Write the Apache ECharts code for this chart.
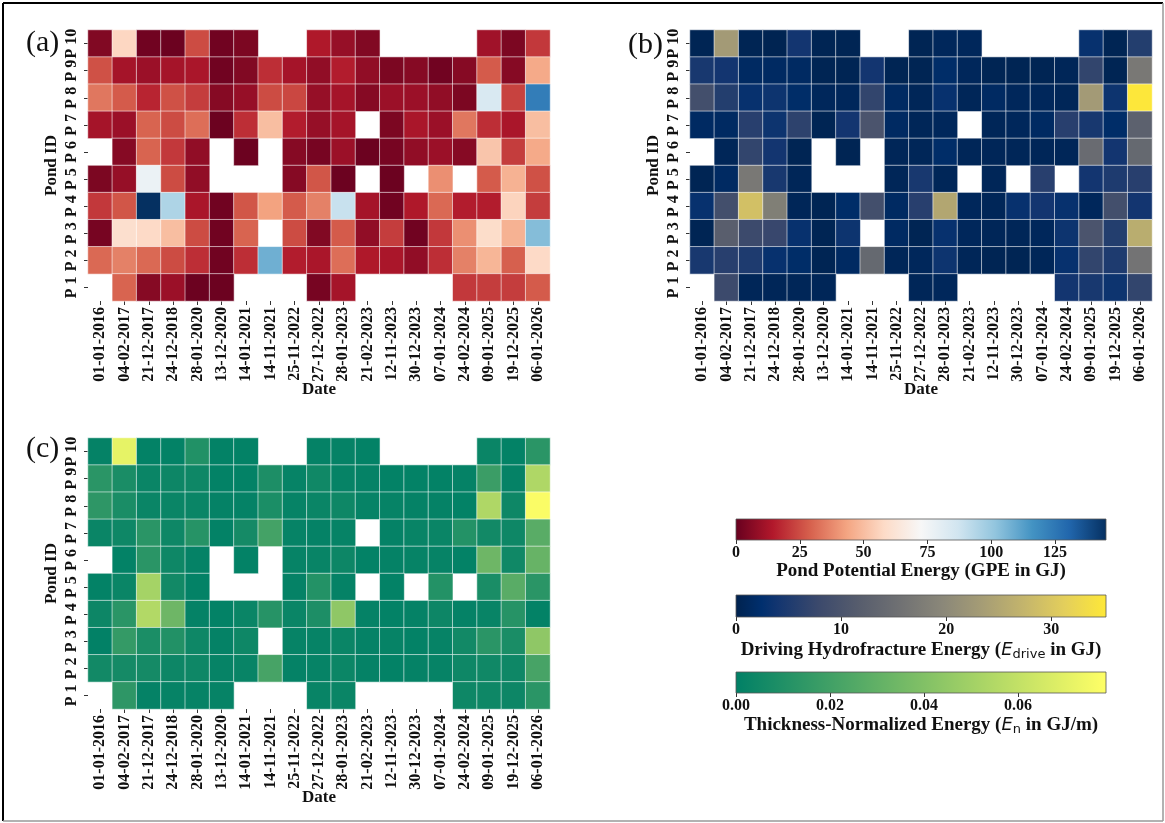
<!DOCTYPE html>
<html><head><meta charset="utf-8">
<script src="https://cdn.jsdelivr.net/npm/echarts@6/dist/echarts.min.js"></script>
<style>html,body{margin:0;padding:0;background:#fff}#c{width:1165px;height:823px}</style>
</head><body><div id="c"></div>
<script>
// ---------- DATA ----------
const dates = ['01-01-2016','04-02-2017','21-12-2017','24-12-2018','28-01-2020','13-12-2020','14-01-2021','14-11-2021','25-11-2022','27-12-2022','28-01-2023','21-02-2023','12-11-2023','30-12-2023','07-01-2024','24-02-2024','09-01-2025','19-12-2025','06-01-2026'];
const ponds = ['P 1','P 2','P 3','P 4','P 5','P 6','P 7','P 8','P 9','P 10'];
// rows listed from P 10 (top) to P 1 (bottom); null = no data
const gpe = [
 [5,57,2,1,25,2,4,null,null,14,9,5,null,null,null,null,11,4,21],
 [26,12,10,12,13,2,5,19,12,8,15,8,4,6,2,6,28,6,45],
 [34,28,17,26,22,6,9,25,24,9,12,6,10,10,8,4,84,23,123],
 [12,10,30,25,32,1,19,50,15,9,12,null,4,13,10,34,19,13,50],
 [null,6,30,21,8,null,1,null,6,3,10,1,3,8,10,6,52,22,45],
 [4,9,77,25,8,null,null,null,6,27,1,null,1,null,39,null,28,47,26],
 [21,27,145,95,13,2,27,43,28,36,89,12,2,14,31,15,15,56,22],
 [3,60,58,50,25,2,30,null,25,5,28,8,22,2,21,39,59,47,104],
 [31,36,31,25,19,2,19,108,15,13,32,14,13,8,19,36,48,29,58],
 [null,30,6,10,1,1,null,null,null,3,12,null,null,null,null,21,22,22,28]
];
const edrive = [
 [0.5,23,0.5,0.3,4,0.5,0.5,null,null,0.5,1,1,null,null,null,null,3,0.5,5.5],
 [4.5,4,1.5,1.5,1.5,0.5,0.5,4,0.5,0.5,2,1,0.5,0.5,0.5,0.8,7,0.5,17],
 [9,5.5,3,3.5,2,1,1,7,1.5,0.8,3,0.8,1.5,1,1,0.8,23,3.5,35],
 [1.5,1.5,6,3.5,6.5,0.5,4,10,1.5,0.8,1,null,0.8,1,1.5,6,4.5,2,12.5],
 [null,0.8,7,4,0.5,null,0.5,null,0.8,0.8,2,0.8,0.8,0.8,0.8,0.8,14.5,4,14],
 [0.5,1.5,17,4.5,0.8,null,null,null,0.8,4.5,0.8,null,0.8,null,6,null,4,5,6],
 [3,9,29,18,0.8,0.5,2,9,1.5,6,25,1,0.8,3,4,3,1,9,4],
 [0.5,12,8,7.5,3,0.5,3.5,null,1.5,0.5,3,1,0.8,0.8,1,3.5,10,5.5,26],
 [4.5,6,5,3,2,0.5,1.5,14,0.8,1,3.5,0.8,0.5,0.5,0.8,3,7,5,16],
 [null,8,0.8,0.8,0.8,0.8,null,null,null,0.8,1,null,null,null,null,4,4.5,3.5,7]
];
const en = [
 [0.0015,0.071,0.001,0.001,0.0104,0.001,0.001,null,null,0.0015,0.0015,0.001,null,null,null,null,0.003,0.001,0.013],
 [0.013,0.008,0.003,0.004,0.0045,0.001,0.001,0.009,0.002,0.005,0.002,0.0015,0.001,0.001,0.001,0.0015,0.018,0.0015,0.054],
 [0.014,0.008,0.003,0.003,0.003,0.0015,0.0015,0.0085,0.002,0.003,0.0045,0.002,0.002,0.0015,0.0015,0.001,0.054,0.0045,0.077],
 [0.003,0.0045,0.013,0.0045,0.012,0.001,0.0065,0.021,0.002,0.0015,0.002,null,0.0015,0.0025,0.003,0.011,0.0055,0.0045,0.0275],
 [null,0.001,0.013,0.0045,0.0015,null,0.001,null,0.002,0.0025,0.004,0.001,0.0015,0.002,0.002,0.001,0.034,0.005,0.032],
 [0.001,0.003,0.051,0.0055,0.001,null,null,null,0.0015,0.011,0.0015,null,0.001,null,0.011,null,0.008,0.0275,0.013],
 [0.004,0.013,0.055,0.034,0.0015,0.001,0.003,0.012,0.003,0.009,0.044,0.0015,0.001,0.0015,0.004,0.0015,0.0025,0.012,0.001],
 [0.0005,0.016,0.0085,0.0105,0.0045,0.0015,0.0045,null,0.002,0.002,0.003,0.0015,0.002,0.001,0.002,0.0055,0.013,0.008,0.044],
 [0.0055,0.0065,0.0065,0.004,0.0045,0.002,0.0025,0.022,0.0015,0.002,0.0035,0.0015,0.001,0.0015,0.002,0.0045,0.005,0.0045,0.022],
 [null,0.014,0.0015,0.002,0.002,0.002,null,null,null,0.0025,0.003,null,null,null,null,0.0045,0.0045,0.004,0.013]
];
const gpeTicks = [0,25,50,75,100,125];
const edriveTicks = [0,10,20,30];
const enTicks = [0,0.02,0.04,0.06];
const gpeMax = 145, edriveMax = 35.2, enMax = 0.0787;

// ---------- COLORMAPS ----------
const RDBU = [[0,'#67001f'],[0.1,'#b2182b'],[0.2,'#d6604d'],[0.3,'#f4a582'],[0.4,'#fddbc7'],[0.5,'#f7f7f7'],[0.6,'#d1e5f0'],[0.7,'#92c5de'],[0.8,'#4393c3'],[0.9,'#2166ac'],[1,'#053061']];
const CIVIDIS = [[0,'#00224e'],[0.07,'#002f6e'],[0.111,'#123570'],[0.222,'#3b496c'],[0.333,'#575d6d'],[0.444,'#707173'],[0.556,'#8a8779'],[0.667,'#a69d75'],[0.778,'#c4b56c'],[0.889,'#e4cf5b'],[1,'#fee838']];
const SUMMER = [[0,'#008066'],[1,'#ffff66']];
function hex2rgb(h){return [parseInt(h.slice(1,3),16),parseInt(h.slice(3,5),16),parseInt(h.slice(5,7),16)];}
function sample(stops,t){
  for(let i=1;i<stops.length;i++){ if(t<=stops[i][0]){ const a=stops[i-1],b=stops[i]; const f=(t-a[0])/(b[0]-a[0]); const ca=hex2rgb(a[1]),cb=hex2rgb(b[1]); return 'rgb('+ca.map((v,k)=>Math.round(v+(cb[k]-v)*f)).join(',')+')'; } }
  return stops[stops.length-1][1];
}
function ramp(stops,n){const o=[];for(let i=0;i<n;i++)o.push(sample(stops,i/(n-1)));return o;}
function toCells(m){const out=[];m.forEach((row,r)=>row.forEach((v,c)=>{if(v!==null)out.push([c,9-r,v]);}));return out;}

const SERIF = '"Liberation Serif","Times New Roman",serif';
const panels = [
  {left:88, top:30, data:gpe, max:gpeMax, cmap:RDBU},
  {left:690, top:30, data:edrive, max:edriveMax, cmap:CIVIDIS},
  {left:88, top:438, data:en, max:enMax, cmap:SUMMER}
];
const cbs = [
  {top:519, h:21, max:gpeMax, ticks:gpeTicks, cmap:RDBU, fmt:v=>String(v), gap:22,
   name:'{b|Pond Potential Energy (GPE in GJ)}'},
  {top:595, h:22, max:edriveMax, ticks:edriveTicks, cmap:CIVIDIS, fmt:v=>String(v), gap:22,
   name:'{b|Driving Hydrofracture Energy (}{e|E}{s|drive}{b| in GJ)}'},
  {top:672, h:21, max:enMax, ticks:enTicks, cmap:SUMMER, fmt:v=>v.toFixed(2), gap:21,
   name:'{b|Thickness-Normalized Energy (}{e|E}{s|n}{b| in GJ/m)}'}
];
const richName = {
  b:{fontFamily:SERIF,fontWeight:'bold',fontSize:19,color:'#111'},
  e:{fontFamily:'"DejaVu Sans",sans-serif',fontStyle:'italic',fontWeight:'normal',fontSize:18,color:'#111'},
  s:{fontFamily:'"DejaVu Sans",sans-serif',fontWeight:'normal',fontSize:13,color:'#111',verticalAlign:'bottom',padding:[9,0,0,0]}
};

const grid=[],xAxis=[],yAxis=[],series=[],visualMap=[];
panels.forEach((p,i)=>{
  grid.push({left:p.left, top:p.top, width:462, height:271, outerBoundsMode:'none', containLabel:false});
  xAxis.push({type:'category', gridIndex:i, data:dates, name:'Date', nameLocation:'middle', nameGap:80, nameMoveOverlap:false,
    nameTextStyle:{fontFamily:SERIF,fontWeight:'bold',fontSize:17,color:'#111'},
    axisLine:{show:false}, axisTick:{show:true,alignWithLabel:true,length:4,lineStyle:{color:'#333',width:1}},
    axisLabel:{rotate:90,interval:0,margin:6,fontFamily:SERIF,fontWeight:'bold',fontSize:16,color:'#111'},
    splitLine:{show:false}});
  yAxis.push({type:'category', gridIndex:i, data:ponds, name:'Pond ID', nameLocation:'middle', nameGap:28, nameMoveOverlap:false,
    nameTextStyle:{fontFamily:SERIF,fontWeight:'bold',fontSize:17,color:'#111'},
    axisLine:{show:false}, axisTick:{show:true,alignWithLabel:true,length:4,lineStyle:{color:'#333',width:1}},
    axisLabel:{rotate:90,interval:0,margin:8,align:'center',verticalAlign:'bottom',fontFamily:SERIF,fontWeight:'bold',fontSize:16,color:'#111'},
    splitLine:{show:false}});
  series.push({type:'heatmap', xAxisIndex:i, yAxisIndex:i, data:toCells(p.data),
    itemStyle:{borderColor:'rgba(255,255,255,0.7)',borderWidth:0.8}, emphasis:{disabled:true}});
  visualMap.push({type:'continuous', show:false, seriesIndex:i, dimension:2, min:0, max:p.max,
    inRange:{color:ramp(p.cmap,64)}});
});
cbs.forEach((c,k)=>{
  const gi = 3+k;
  grid.push({left:736, top:c.top, width:370, height:c.h, outerBoundsMode:'none', containLabel:false});
  xAxis.push({type:'value', gridIndex:gi, min:0, max:c.max, name:c.name, nameLocation:'middle', nameGap:c.gap, nameMoveOverlap:false,
    nameTextStyle:{fontFamily:SERIF,fontWeight:'bold',fontSize:19,color:'#111',rich:richName},
    axisLine:{show:false}, splitLine:{show:false},
    axisTick:{show:true,length:4,customValues:c.ticks,lineStyle:{color:'#333'}},
    axisLabel:{customValues:c.ticks,formatter:c.fmt,margin:5,fontFamily:SERIF,fontWeight:'bold',fontSize:16,color:'#111'}});
  yAxis.push({type:'value', gridIndex:gi, min:0, max:1, show:false});
  const stops = c.cmap.map(s=>({offset:s[0],color:s[1]}));
  series.push({type:'custom', xAxisIndex:gi, yAxisIndex:gi, data:[[0,0]], silent:true, clip:false,
    renderItem:(params,api)=>{
      const p0=api.coord([0,0]), p1=api.coord([c.max,1]);
      return {type:'rect', shape:{x:p0[0],y:p1[1],width:p1[0]-p0[0],height:p0[1]-p1[1]},
        style:{fill:new echarts.graphic.LinearGradient(0,0,1,0,stops),stroke:'#555',lineWidth:0.8}};
    }});
});

const chart = echarts.init(document.getElementById('c'),null,{renderer:'canvas'});
chart.setOption({
  animation:false, backgroundColor:'#fff',
  grid, xAxis, yAxis, series, visualMap,
  graphic:[
    {type:'text',left:26,top:28,style:{text:'(a)',font:'30px '+SERIF,fill:'#111'}},
    {type:'text',left:628,top:30,style:{text:'(b)',font:'30px '+SERIF,fill:'#111'}},
    {type:'text',left:26,top:434,style:{text:'(c)',font:'30px '+SERIF,fill:'#111'}},
    {type:'line',shape:{x1:3,y1:3,x2:1163,y2:3},style:{stroke:'#000',lineWidth:2}},
    {type:'line',shape:{x1:3,y1:3,x2:3,y2:821},style:{stroke:'#000',lineWidth:2}},
    {type:'line',shape:{x1:3,y1:821,x2:1163,y2:821},style:{stroke:'#999',lineWidth:1.5}},
    {type:'line',shape:{x1:1163,y1:3,x2:1163,y2:821},style:{stroke:'#999',lineWidth:1.5}}
  ]
});
</script></body></html>
